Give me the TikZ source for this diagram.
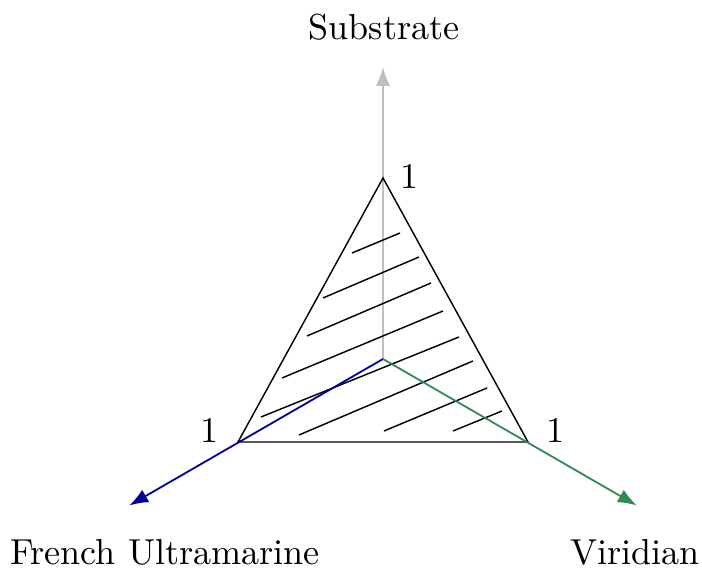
\documentclass[tikz,border=0pt]{standalone}
\usepackage{tikz}
\usetikzlibrary{arrows.meta, positioning}
\definecolor{ultramarine}{HTML}{000099}
\definecolor{viridian}{HTML}{2E8B57}

\begin{document}
\begin{tikzpicture}[
    x=0.277pt, y=0.277pt,
    axis/.style={-{Latex}, line width=0.5pt},
    axisname/.style={anchor=base},
    tickone/.style={anchor=base}
]
\useasboundingbox (-383,-209) rectangle (319,359);
\coordinate (origin) at (0,0);
\coordinate (vsub) at (0,181);
\coordinate (vfu) at (-145,-83);
\coordinate (vvir) at (145,-83);
\coordinate (tipsub) at (0,292);
\coordinate (tipfu) at (210:293);
\coordinate (tipvir) at (330:293);
\draw[axis, draw=black!25, fill=black!25] (origin) -- (tipsub);
\draw (vsub) -- (vfu) -- (vvir) -- cycle;
\foreach \xa/\ya/\xb/\yb in {-31/106/17/126, -60/61/36/102, -76/23/48/76, -101/-19/60/48,
    -122/-58/76/22, -84/-76/90/-2, 1/-72/104/-29, 70/-72/119/-52}
    \draw (\xa,\ya) -- (\xb,\yb);
\draw[axis, draw=ultramarine, fill=ultramarine] (origin) -- (tipfu);
\draw[axis, draw=viridian, fill=viridian] (origin) -- (tipvir);
\node[tickone] (onesub) at (27,170) {1};
\node[tickone] (onefu) at (-173,-84) {1};
\node[tickone] (onevir) at (173,-84) {1};
\node[axisname] (namesub) at (1,319) {Substrate};
\node[axisname] (namefu) at (-218,-206) {French Ultramarine};
\node[axisname] (namevir) at (252,-206) {Viridian};
\end{tikzpicture}
\end{document}
